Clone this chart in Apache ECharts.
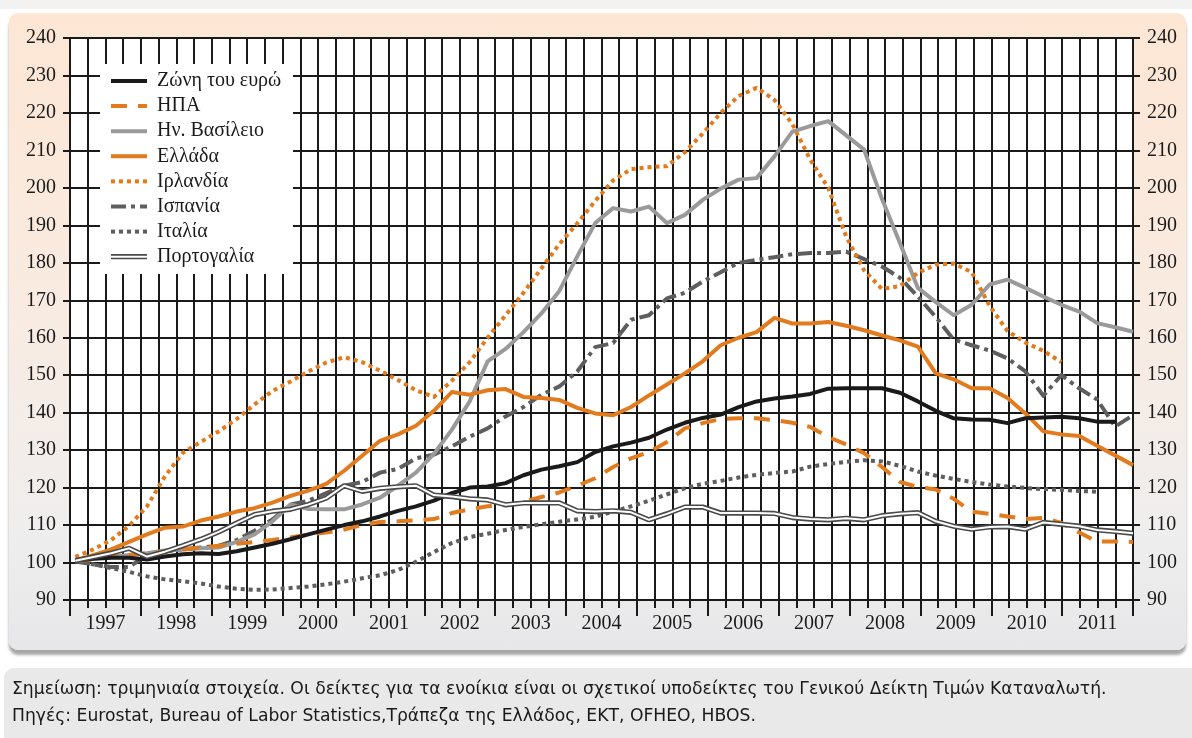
<!DOCTYPE html>
<html><head><meta charset="utf-8">
<script src="https://cdn.jsdelivr.net/npm/echarts@6/dist/echarts.min.js"></script>
<style>
html,body{margin:0;padding:0;width:1192px;height:738px;overflow:hidden;background:#fff;}
#topband{position:absolute;left:0;top:0;width:1192px;height:9px;background:#f2f2f2;}
#panel{position:absolute;left:9px;top:13px;width:1177px;height:637px;border-radius:9px;
 background:linear-gradient(180deg,#fde6d4 0%,#f9ebe1 45%,#efeeee 82%,#e7e7e9 100%);
 box-shadow:0 5px 3px rgba(0,0,0,0.35);}
#notes{position:absolute;left:4px;top:668px;width:1200px;height:90px;border-radius:10px;background:#e9e9e9;}
#chart{position:absolute;left:0;top:0;width:1192px;height:738px;}
</style></head>
<body>
<div id="topband"></div>
<div id="panel"></div>
<div id="notes"></div>
<div id="chart"></div>
<script>
// ---------- data ----------
const years = ['1997','1998','1999','2000','2001','2002','2003','2004','2005','2006','2007','2008','2009','2010','2011'];
const yTicks = [90,100,110,120,130,140,150,160,170,180,190,200,210,220,230,240];
const seriesNames = ['Ζώνη του ευρώ','ΗΠΑ','Ην. Βασίλειο','Ελλάδα','Ιρλανδία','Ισπανία','Ιταλία','Πορτογαλία'];

const euro = [100.5,101,101.3,101.3,100.8,101.6,102.2,102.5,102.3,103,
  104,105,106.2,107.5,108.8,110,111,112.3,113.8,115,
  116.5,118.5,120,120.3,121.2,123.3,124.8,125.7,126.8,129.5,
  131,132,133.3,135.5,137.3,138.6,139.5,141.5,143,143.8,
  144.3,145,146.4,146.5,146.5,146.5,145.3,143,140.5,138.5,
  138.2,138.1,137.2,138.5,138.7,138.9,138.5,137.6,137.6];
const usa = [100.4,100.8,101.5,102,102.5,103,103.5,104,104.5,105,
  105.5,106,106.7,107.5,108,108.8,110,110.8,111,111.3,
  111.6,113.2,114.2,115,115.3,116.2,117.5,118.7,120.5,122.5,
  125.5,127.8,129.5,132.2,135.8,137.2,138.3,138.5,138.5,138,
  137.3,136.2,133.5,131.5,129.2,125.5,121.5,120.2,119.5,117,
  113.6,113,112.3,111.6,111.9,110.6,108,105.6,105.6,105.5];
const uk = [100.5,101,101.5,102,102.5,103.2,103.5,103.8,104,105.5,
  107.5,111,115.5,114.3,114.2,114.2,115.5,117.3,120.5,124,
  129,135.4,143,153.7,157,161.5,166.5,172.5,181.7,190.6,
  194.6,193.7,195,190.6,192.8,196.8,199.8,202.2,202.6,208.4,
  215,216.5,217.8,214,210.2,197,185.3,173.3,169.5,166,
  168.8,174.2,175.5,173.3,171,168.8,167,163.9,162.8,161.6];
const greece = [100.5,102,103.5,105.5,107.5,109.3,109.6,111.2,112.3,113.6,
  114.5,116,117.8,119.2,121,124.5,128.5,132.5,134.2,136.5,
  140.5,145.5,144.8,146,146.3,144.2,143.9,143.4,141.3,139.8,
  139.3,141.5,144.6,147.5,150.5,153.7,158,160,161.5,165.3,
  163.8,163.8,164.2,163.2,162,160.6,159.3,157.6,150.5,148.9,
  146.5,146.5,143.9,139.8,135,134.2,133.8,131.2,128.6,126];
const ireland = [101.5,103.5,106,109.8,115,123,129.3,132.2,135,138.3,
  142.2,145.8,148.3,151,153.4,154.8,153.5,151.2,148.7,146,
  144.2,148.5,153.5,160,166,172,178.5,185,190.5,196.5,
  202,205,205.5,205.8,209.5,214.5,220,224.5,226.7,223.5,
  217,207.5,200,187,178,173,173.8,177.3,179.5,179.8,
  177.5,168.5,161.8,158.7,156.5,153.5];
const spain = [100.3,99.5,98.8,98.8,102,103,103.5,104,104.5,106,
  108.5,111.5,115.5,116.5,118.5,120.5,121.5,124,125,127.8,
  128.8,131,133.6,135.8,139,141.5,144.8,147,151,157.5,
  158.6,164.8,166,170.5,172,175,177.5,180,180.8,181.5,
  182.3,182.6,182.6,183,181,179,176,171,165.5,159.5,
  158,156.6,154.5,151,144.5,150,146.5,143.5,136.3,139.3];
const italy = [100.5,99.5,98.5,97.5,96.3,95.5,95,94.4,93.6,93,
  92.7,92.8,93.2,93.6,94.2,94.9,95.8,96.6,98,100.2,
  102.8,105.2,106.8,107.7,108.7,109.5,110.2,110.9,111.5,112.2,
  113.6,115,116.5,118.2,119.8,121,121.8,122.7,123.4,123.9,
  124.3,125.6,126.3,126.9,127.3,127,125.8,124.3,123.2,122.3,
  121.5,120.8,120.3,119.9,119.6,119.4,119.1,118.9];
const portugal = [100.5,101.5,102.5,103.8,101.6,102.9,104.5,106.2,108.2,110.5,
  112.8,113.7,114.2,115.5,117.2,120.5,119,119.8,120.2,120.5,
  118,117.6,117,116.7,115.4,115.9,115.9,115.9,113.8,113.6,
  113.8,113.4,111.4,113,114.8,114.8,113.2,113.2,113.2,113.1,
  112,111.6,111.4,111.8,111.4,112.5,113,113.3,111,109.7,
  108.9,109.5,109.6,108.9,110.7,110.2,109.7,108.7,108.3,107.8];
const notes = [
  'Σημείωση: τριμηνιαία στοιχεία. Οι δείκτες για τα ενοίκια είναι οι σχετικοί υποδείκτες του Γενικού Δείκτη Τιμών Καταναλωτή.',
  'Πηγές: Eurostat, Bureau of Labor Statistics,Τράπεζα της Ελλάδος, ΕΚΤ, OFHEO, HBOS.'
];

// ---------- derived ----------
const quarters = [];
years.forEach(y => ['Q1','Q2','Q3','Q4'].forEach(q => quarters.push(y + q)));

const ORANGE = '#e27a1e', BLACK = '#1a1a1a', GREY = '#9a9a9a', DARK = '#5e5e5e';
const styles = [
  {data: euro, color: BLACK, width: 4, type: 'solid'},
  {data: usa, color: ORANGE, width: 4, type: [16, 11]},
  {data: uk, color: GREY, width: 4, type: 'solid'},
  {data: greece, color: ORANGE, width: 4, type: 'solid'},
  {data: ireland, color: ORANGE, width: 4, type: [4, 4]},
  {data: spain, color: DARK, width: 4, type: [15, 5, 4, 5]},
  {data: italy, color: DARK, width: 4, type: [4, 4]},
  {data: portugal, color: '#ffffff', width: 2, type: 'solid', outline: '#4a4a4a'}
];
const drawOrder = [6, 5, 2, 4, 1, 3, 0, 7];
const FONT = 'Liberation Serif';

const series = [];
drawOrder.forEach((k, n) => {
  const s = styles[k];
  if (s.outline) {
    series.push({
      type: 'line', name: seriesNames[k] + ' ', xAxisIndex: 2, yAxisIndex: 2,
      data: s.data, symbol: 'none', silent: true, z: 2 + n,
      lineStyle: {color: s.outline, width: s.width + 3.2, type: 'solid'}
    });
  }
  series.push({
    type: 'line', name: seriesNames[k], xAxisIndex: 2, yAxisIndex: 2,
    data: s.data, symbol: 'none', z: 2 + n + (s.outline ? 1 : 0),
    lineStyle: {color: s.color, width: s.width, type: s.type, cap: 'butt', join: 'round'}
  });
});

// legend (drawn as graphic to show the double line)
const LX = 100, LY = 64;
const graphics = [{type: 'rect', z: 40, shape: {x: LX, y: LY, width: 193, height: 210}, style: {fill: '#ffffff', stroke: null}}];
styles.forEach((s, k) => {
  const cy = LY + 17 + k * 25.1;
  if (s.outline) {
    graphics.push({type: 'line', z: 41, shape: {x1: LX + 11, y1: cy, x2: LX + 47, y2: cy}, style: {stroke: s.outline, lineWidth: s.width + 3.2}});
  }
  graphics.push({type: 'line', z: 42, shape: {x1: LX + 11, y1: cy, x2: LX + 47, y2: cy},
    style: {stroke: s.color, lineWidth: s.width, lineDash: Array.isArray(s.type) ? s.type : null, lineCap: 'butt'}});
  graphics.push({type: 'text', z: 42, x: LX + 57, y: cy, style: {text: seriesNames[k], fill: '#1a1a1a',
    fontFamily: FONT, fontSize: 20, verticalAlign: 'middle', align: 'left'}});
});
graphics.push({type: 'text', z: 42, x: 12, y: 690, style: {text: notes[0], fill: '#1a1a1a', fontFamily: 'DejaVu Sans', fontSize: 17.2, verticalAlign: 'middle'}});
graphics.push({type: 'text', z: 42, x: 12, y: 717, style: {text: notes[1], fill: '#1a1a1a', fontFamily: 'DejaVu Sans', fontSize: 17.2, verticalAlign: 'middle'}});

const axisStroke = {color: BLACK, width: 2};
const option = {
  animation: false,
  backgroundColor: 'transparent',
  grid: [
    {left: 70, top: 38, width: 1063, height: 562, show: true, backgroundColor: '#ffffff', borderWidth: 0, containLabel: false, outerBoundsMode: 'none'},
    {left: 75.3, top: 38, width: 1057.7, height: 562, show: false, containLabel: false, outerBoundsMode: 'none'}
  ],
  xAxis: [
    {gridIndex: 0, type: 'value', min: 0, max: 60, interval: 1, position: 'bottom',
      axisLine: {show: true, lineStyle: axisStroke}, axisTick: {show: true, length: 8, lineStyle: axisStroke},
      axisLabel: {show: false}, splitLine: {show: true, lineStyle: axisStroke}},
    {gridIndex: 0, type: 'category', data: years, boundaryGap: true, position: 'bottom',
      axisLine: {show: false}, axisTick: {show: true, length: 16, interval: 0, lineStyle: axisStroke},
      axisLabel: {interval: 0, margin: 14, color: '#1a1a1a', fontFamily: FONT, fontSize: 20}, splitLine: {show: false}},
    {gridIndex: 1, type: 'category', data: quarters, boundaryGap: false, show: false}
  ],
  yAxis: [
    {gridIndex: 0, type: 'value', min: yTicks[0], max: yTicks[yTicks.length - 1], interval: 10, position: 'left',
      axisLine: {show: true, lineStyle: axisStroke}, axisTick: {show: true, length: 7, lineStyle: axisStroke},
      axisLabel: {margin: 14, color: '#1a1a1a', fontFamily: FONT, fontSize: 20},
      splitLine: {show: true, lineStyle: axisStroke}},
    {gridIndex: 0, type: 'value', min: yTicks[0], max: yTicks[yTicks.length - 1], interval: 10, position: 'right',
      axisLine: {show: true, lineStyle: axisStroke}, axisTick: {show: true, length: 7, lineStyle: axisStroke},
      axisLabel: {margin: 14, color: '#1a1a1a', fontFamily: FONT, fontSize: 20},
      splitLine: {show: false}},
    {gridIndex: 1, type: 'value', min: yTicks[0], max: yTicks[yTicks.length - 1], show: false}
  ],
  series: series,
  graphic: graphics
};
const chart = echarts.init(document.getElementById('chart'), null, {renderer: 'canvas'});
chart.setOption(option);
</script>
</body></html>
